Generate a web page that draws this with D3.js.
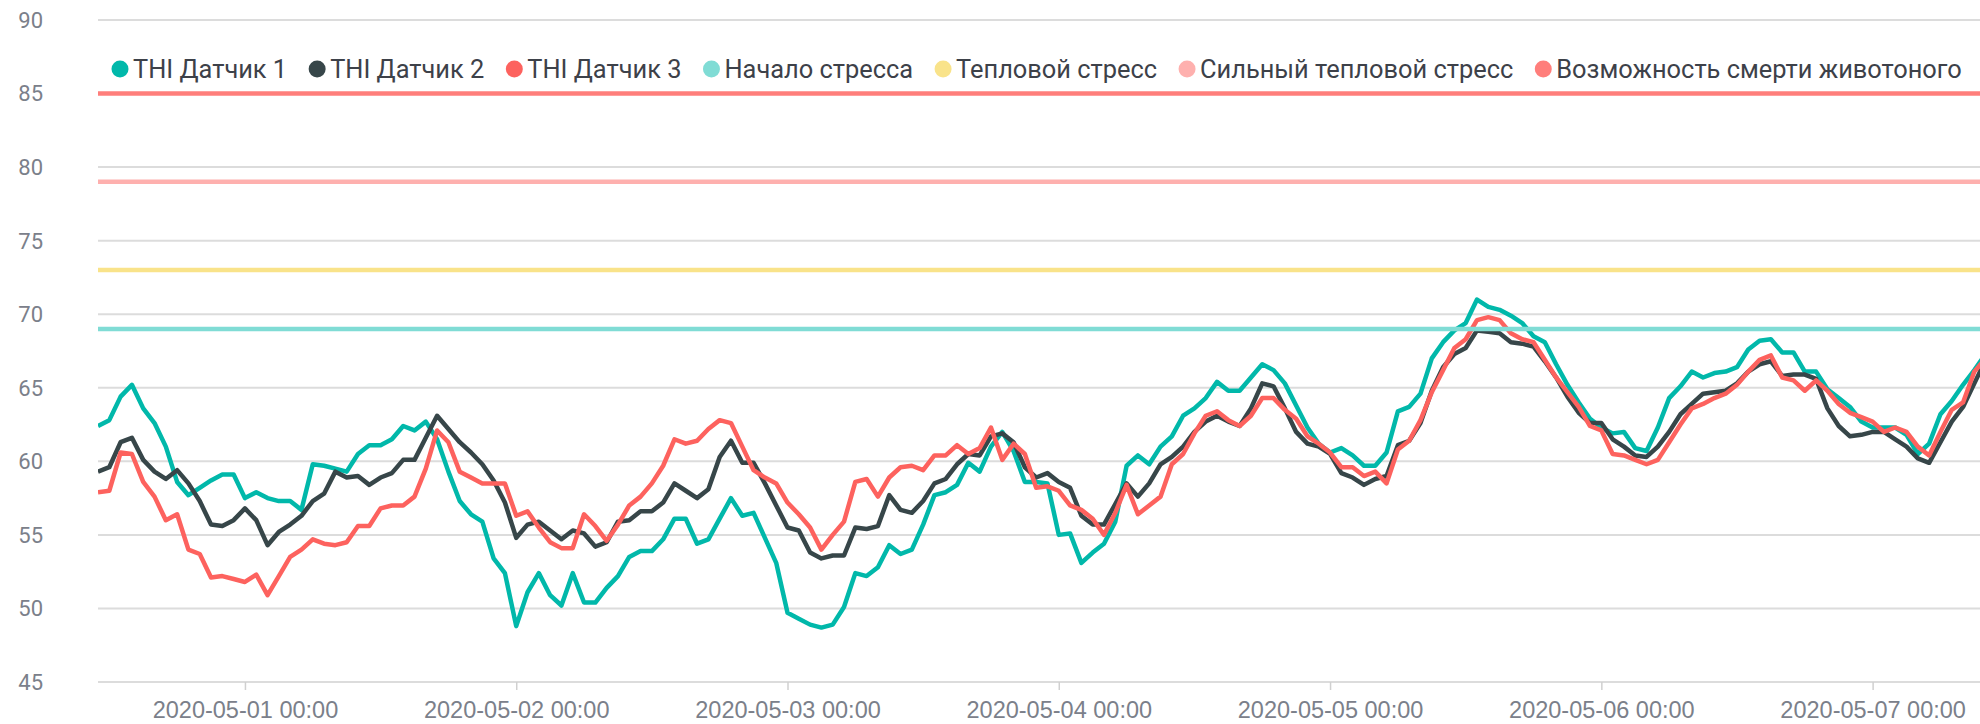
<html>
    <head>
        <title> THI </title>
        <script src="https://d3js.org/d3.v7.min.js" charset="utf-8"></script>
        <style>
        body{
                margin: 0;
                background: white;
                font-family: Roboto, "Noto Sans", sans-serif;
            }
        .grid line {
            stroke: #dcdcdc;
            stroke-width: 2;
        }
        .axis text {
            fill: #7b808a;
            font-size: 22px;
        }
        .xaxis text {
            fill: #7b808a;
            font-size: 23.5px;
        }
        .legend text {
            fill: #3d4149;
            font-size: 25.4px;
        }
        </style>
    </head>
    <body>
        <script>
            //size of graphic
            var width = 1980;
            var height = 724;

            //first reading, then one reading every hour
            var startTime = Date.UTC(2020, 3, 30, 11, 0);
            var endView = Date.UTC(2020, 4, 7, 9, 30);

            var seriesNames = ["THI Датчик 1", "THI Датчик 2", "THI Датчик 3"];
            var seriesColors = ["#01b8aa", "#374649", "#fd625e"];

            var thi1 = [62.4, 62.8, 64.4, 65.2, 63.6, 62.6, 61.0, 58.6, 57.7, 58.2, 58.7, 59.1, 59.1, 57.5, 57.9, 57.5, 57.3, 57.3, 56.7, 59.8, 59.7, 59.5, 59.3, 60.5, 61.1, 61.1, 61.5, 62.4, 62.1, 62.7,
                61.5, 59.3, 57.3, 56.4, 55.9, 53.4, 52.4, 48.8, 51.1, 52.4, 50.9, 50.2, 52.4, 50.4, 50.4, 51.4, 52.2, 53.5, 53.9, 53.9, 54.7, 56.1, 56.1, 54.4, 54.7, 56.1, 57.5, 56.3,
                56.5, 54.8, 53.1, 49.7, 49.3, 48.9, 48.7, 48.9, 50.1, 52.4, 52.2, 52.8, 54.3, 53.7, 54.0, 55.7, 57.7, 57.9, 58.4, 59.9, 59.3, 61.0, 62.0, 60.7, 58.6, 58.6, 58.5, 55.0,
                55.1, 53.1, 53.8, 54.4, 55.9, 59.7, 60.4, 59.8, 61.0, 61.7, 63.1, 63.6, 64.3, 65.4, 64.8, 64.8, 65.7, 66.6, 66.2, 65.3, 63.8, 62.3, 61.2, 60.6, 60.9, 60.4, 59.7,
                59.7, 60.6, 63.4, 63.7, 64.6, 67.0, 68.1, 68.9, 69.4, 71.0, 70.5, 70.3, 69.9, 69.4, 68.5, 68.1, 66.6, 65.2, 64.0, 62.9, 62.3, 61.9, 62.0, 60.9, 60.7, 62.3, 64.3, 65.1,
                66.1, 65.7, 66.0, 66.1, 66.4, 67.6, 68.2, 68.3, 67.4, 67.4, 66.1, 66.1, 64.9, 64.3, 63.7, 62.7, 62.3, 62.3, 62.3, 61.8, 60.5, 61.2, 63.2, 64.1, 65.2, 66.2, 67.3];

            var thi2 = [59.3, 59.6, 61.3, 61.6, 60.1, 59.3, 58.8, 59.4, 58.5, 57.3, 55.7, 55.6, 56.0, 56.8, 56.0, 54.3, 55.2, 55.7, 56.3, 57.3, 57.8, 59.3, 58.9, 59.0, 58.4, 58.9, 59.2, 60.1, 60.1, 61.6,
                63.1, 62.2, 61.3, 60.6, 59.8, 58.7, 57.2, 54.8, 55.7, 55.9, 55.3, 54.7, 55.3, 55.1, 54.2, 54.5, 55.9, 56.0, 56.6, 56.6, 57.2, 58.5, 58.0, 57.5, 58.1, 60.3, 61.4, 59.9,
                59.9, 58.5, 57.0, 55.5, 55.3, 53.8, 53.4, 53.6, 53.6, 55.5, 55.4, 55.6, 57.7, 56.7, 56.5, 57.3, 58.5, 58.8, 59.8, 60.5, 60.4, 61.7, 61.9, 61.3, 59.6, 58.9, 59.2, 58.6,
                58.2, 56.3, 55.7, 55.7, 57.1, 58.5, 57.6, 58.5, 59.8, 60.3, 61.0, 62.0, 62.7, 63.1, 62.7, 62.4, 63.6, 65.3, 65.1, 63.6, 62.0, 61.2, 61.0, 60.5, 59.2, 58.9, 58.4,
                58.8, 59.0, 61.1, 61.4, 62.6, 64.8, 66.4, 67.3, 67.7, 68.9, 68.8, 68.7, 68.1, 68.0, 67.8, 66.8, 65.7, 64.4, 63.3, 62.6, 62.6, 61.5, 61.0, 60.4, 60.3, 61.0, 62.0, 63.2,
                63.9, 64.6, 64.7, 64.8, 65.3, 66.1, 66.6, 66.8, 65.8, 65.9, 65.9, 65.6, 63.6, 62.4, 61.7, 61.8, 62.0, 62.0, 61.5, 61.0, 60.2, 59.9, 61.3, 62.7, 63.7, 65.3, 66.9];

            var thi3 = [57.9, 58.0, 60.6, 60.5, 58.6, 57.6, 56.0, 56.4, 54.0, 53.7, 52.1, 52.2, 52.0, 51.8, 52.3, 50.9, 52.2, 53.5, 54.0, 54.7, 54.4, 54.3, 54.5, 55.6, 55.6, 56.8, 57.0, 57.0, 57.6, 59.5,
                62.1, 61.3, 59.3, 58.9, 58.5, 58.5, 58.5, 56.3, 56.6, 55.5, 54.5, 54.1, 54.1, 56.4, 55.6, 54.6, 55.7, 57.0, 57.6, 58.5, 59.7, 61.5, 61.2, 61.4, 62.2, 62.8, 62.6, 61.0,
                59.4, 58.9, 58.5, 57.2, 56.4, 55.5, 54.0, 55.0, 55.9, 58.6, 58.8, 57.6, 58.9, 59.6, 59.7, 59.4, 60.4, 60.4, 61.1, 60.5, 60.9, 62.3, 60.1, 61.2, 60.5, 58.2, 58.3, 58.0,
                57.0, 56.7, 56.1, 55.0, 56.5, 58.4, 56.4, 57.0, 57.6, 59.8, 60.5, 61.9, 63.1, 63.4, 62.8, 62.4, 63.1, 64.3, 64.3, 63.5, 62.9, 61.7, 61.2, 60.6, 59.6, 59.6, 59.0,
                59.3, 58.5, 60.8, 61.4, 62.8, 64.7, 66.2, 67.7, 68.3, 69.6, 69.8, 69.6, 68.7, 68.3, 68.1, 66.9, 65.7, 64.7, 63.7, 62.4, 62.1, 60.5, 60.4, 60.1, 59.8, 60.1, 61.3, 62.5,
                63.6, 63.9, 64.3, 64.6, 65.2, 66.1, 66.9, 67.2, 65.7, 65.5, 64.8, 65.5, 64.8, 63.9, 63.3, 63.0, 62.7, 62.0, 62.3, 62.0, 61.0, 60.4, 62.0, 63.5, 64.0, 66.1, 67.0];

            //stress thresholds, drawn as flat lines
            var levelNames = ["Начало стресса", "Тепловой стресс", "Сильный тепловой стресс", "Возможность смерти животоного"];
            var levelValues = [69, 73, 79, 85];
            var levelColors = ["#80dcd5", "#f9e38a", "#feb0ae", "#ff7e7b"];

            var yTicks = [45, 50, 55, 60, 65, 70, 75, 80, 85, 90];

            var margin = {left: 98, right: 0, top: 20, bottom: 682};

            //scales
            var x = d3.scaleUtc()
                .domain([startTime, endView])
                .range([margin.left, width - margin.right]);
            var y = d3.scaleLinear()
                .domain([45, 90])
                .range([margin.bottom, margin.top]);

            var svg = d3.select("body")
                .append("svg")
                .attr("width", width)
                .attr("height", height);

            svg.append("defs").append("clipPath")
                .attr("id", "plot")
                .append("rect")
                .attr("x", margin.left)
                .attr("y", 0)
                .attr("width", width - margin.left - margin.right)
                .attr("height", margin.bottom + 4);

            //horizontal grid
            svg.append("g")
                .attr("class", "grid")
                .selectAll("line")
                .data(yTicks)
                .enter()
                .append("line")
                .attr("x1", margin.left)
                .attr("x2", width - margin.right)
                .attr("y1", function(d){ return y(d); })
                .attr("y2", function(d){ return y(d); });

            //y labels
            svg.append("g")
                .attr("class", "axis")
                .selectAll("text")
                .data(yTicks)
                .enter()
                .append("text")
                .attr("x", 43)
                .attr("y", function(d){ return y(d); })
                .attr("dy", "0.36em")
                .attr("text-anchor", "end")
                .text(function(d){ return d; });

            //x axis: one tick per day
            var xAxis = d3.axisBottom(x)
                .ticks(d3.utcDay.every(1))
                .tickFormat(d3.utcFormat("%Y-%m-%d %H:%M"))
                .tickSize(8)
                .tickPadding(11);
            var gx = svg.append("g")
                .attr("class", "xaxis")
                .attr("transform", "translate(0," + y(45) + ")")
                .call(xAxis);
            gx.select(".domain").remove();
            gx.selectAll(".tick line").attr("stroke", "#d0d0d0").attr("stroke-width", 1.5);
            gx.selectAll(".tick text").attr("font-family", null).attr("font-size", null);

            //lines
            var series = [thi1, thi2, thi3].map(function(vals){
                return vals.map(function(v, i){ return {t: startTime + i * 3600000, v: v}; });
            });

            var line = d3.line()
                .x(function(d){ return x(d.t); })
                .y(function(d){ return y(d.v); });

            var plot = svg.append("g").attr("clip-path", "url(#plot)");

            plot.selectAll(".thi")
                .data(series)
                .enter()
                .append("path")
                .attr("class", "thi")
                .attr("fill", "none")
                .attr("stroke", function(d, i){ return seriesColors[i]; })
                .attr("stroke-width", 4.5)
                .attr("stroke-linejoin", "round")
                .attr("d", line);

            plot.selectAll(".level")
                .data(levelValues)
                .enter()
                .append("line")
                .attr("class", "level")
                .attr("x1", margin.left)
                .attr("x2", width - margin.right)
                .attr("y1", function(d){ return y(d); })
                .attr("y2", function(d){ return y(d); })
                .attr("stroke", function(d, i){ return levelColors[i]; })
                .attr("stroke-width", 4.5);

            //legend in one row, items placed after measuring text
            var legendNames = seriesNames.concat(levelNames);
            var legendColors = seriesColors.concat(levelColors);
            var legend = svg.append("g").attr("class", "legend");
            var cx = 120;
            legendNames.forEach(function(name, i){
                legend.append("circle")
                    .attr("cx", cx)
                    .attr("cy", 69)
                    .attr("r", 8.5)
                    .attr("fill", legendColors[i]);
                var t = legend.append("text")
                    .attr("x", cx + 13)
                    .attr("y", 69)
                    .attr("dy", "0.36em")
                    .text(name);
                cx = cx + 13 + t.node().getComputedTextLength() + 30;
            });
        </script>
    </body>
</html>
